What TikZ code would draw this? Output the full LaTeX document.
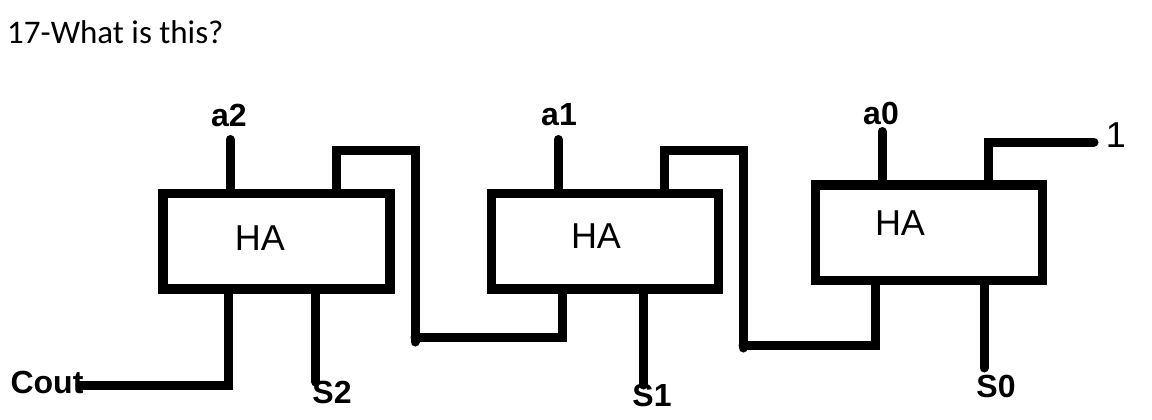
\documentclass[tikz,border=0pt]{standalone}
\usepackage{fontspec}
\setmainfont{Liberation Sans}
\newfontfamily\titlefont{Carlito}
\tikzset{
  wire/.style={line width=9pt,line cap=round,line join=miter},
  habox/.style={draw,line width=9.5pt,rectangle,inner sep=0pt,minimum width=227pt},
  hatext/.style={inner sep=0pt,font=\fontsize{36}{36}\selectfont},
  pinlabel/.style={inner sep=0pt,font=\bfseries\fontsize{32}{32}\selectfont},
}
\begin{document}
\begin{tikzpicture}[x=1pt,y=-1pt]
  \useasboundingbox (0,0) rectangle (1152,420);
  \node[anchor=west,inner sep=0pt,font=\titlefont\fontsize{33}{33}\selectfont] (title) at (7,32) {17-What is this?};
  % half adders
  \node[habox,minimum height=95.5pt] (ha2) at (276.5,241.3) {};
  \node[habox,minimum height=95.5pt] (ha1) at (605,241.3) {};
  \node[habox,minimum height=95.7pt] (ha0) at (929,232.8) {};
  \node[hatext] (ha2text) at (260,238) {HA};
  \node[hatext] (ha1text) at (596,236) {HA};
  \node[hatext] (ha0text) at (900,223) {HA};
  % free ends
  \coordinate (a2end) at (230,139.5);
  \coordinate (a1end) at (558,139.5);
  \coordinate (a0end) at (882,131.5);
  \coordinate (oneend) at (1094,142);
  \coordinate (coutend) at (80,385);
  \coordinate (s2end) at (315.5,382);
  \coordinate (s1end) at (643,385);
  \coordinate (s0end) at (984,368);
  \coordinate (c2end) at (415,342);
  \coordinate (c1end) at (743,348);
  % inputs
  \draw[wire] (a2end) -- (a2end |- ha2.north);
  \draw[wire] (a1end) -- (a1end |- ha1.north);
  \draw[wire] (a0end) -- (a0end |- ha0.north);
  \draw[wire] (ha0.north -| 988.5,0) -- (988.5,142) -- (oneend);
  % carries
  \draw[wire] (ha2.north -| 336.5,0) -- (336.5,150) -- (415,150) -- (c2end);
  \draw[wire] (c2end |- 0,337) -- (562.5,337) -- (ha1.south -| 562.5,0);
  \draw[wire] (ha1.north -| 664,0) -- (664,150) -- (743,150) -- (c1end);
  \draw[wire] (c1end |- 0,345) -- (875.5,345) -- (ha0.south -| 875.5,0);
  \draw[wire] (ha2.south -| 228,0) -- (228,385) -- (coutend);
  % sums
  \draw[wire] (s2end |- ha2.south) -- (s2end);
  \draw[wire] (s1end |- ha1.south) -- (s1end);
  \draw[wire] (s0end |- ha0.south) -- (s0end);
  % labels
  \node[pinlabel] (a2) at (229,115) {a2};
  \node[pinlabel] (a1) at (559,115) {a1};
  \node[pinlabel] (a0) at (881,113) {a0};
  \node[inner sep=0pt,font=\fontsize{36}{36}\selectfont] (one) at (1116,135) {1};
  \node[pinlabel] (cout) at (47,382) {Cout};
  \node[pinlabel] (s2) at (332,392) {S2};
  \node[pinlabel] (s1) at (652,395) {S1};
  \node[pinlabel] (s0) at (996,386) {S0};
\end{tikzpicture}
\end{document}
